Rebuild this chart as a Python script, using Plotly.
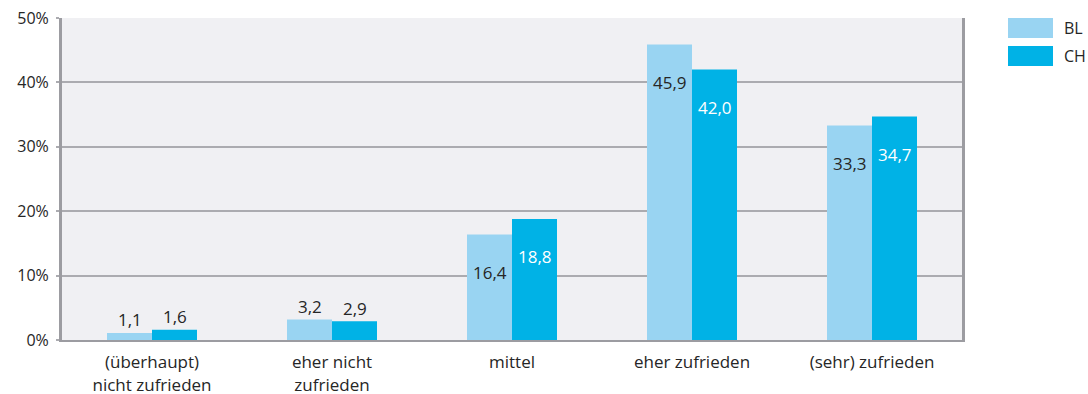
import plotly.graph_objects as go

categories = ["(überhaupt)<br>nicht zufrieden", "eher nicht<br>zufrieden", "mittel",
              "eher zufrieden", "(sehr) zufrieden"]
bl_values = [1.1, 3.2, 16.4, 45.9, 33.3]
ch_values = [1.6, 2.9, 18.8, 42.0, 34.7]
y_ticks = [0, 10, 20, 30, 40, 50]
y_tick_labels = ["0%", "10%", "20%", "30%", "40%", "50%"]

BL_COLOR = "#99d4f2"
CH_COLOR = "#00b2e6"
TEXT_DARK = "#262626"
GRID = "#ababb0"
AXIS = "#9c9ca1"
FONT = "Open Sans"

fig = go.Figure()
fig.add_trace(go.Bar(x=categories, y=bl_values, name="BL", marker_color=BL_COLOR,
                     marker_line_width=0))
fig.add_trace(go.Bar(x=categories, y=ch_values, name="CH", marker_color=CH_COLOR,
                     marker_line_width=0))


def fmt(v):
    return f"{v:.1f}".replace(".", ",")


# value labels: above short bars, inside the top of tall bars
annotations = []
for series, shift, inside_color in ((bl_values, -22.5, TEXT_DARK), (ch_values, 22.5, "white")):
    for cat, v in zip(categories, series):
        inside = v > 10
        annotations.append(dict(
            x=cat, y=v, xref="x", yref="y", text=fmt(v), showarrow=False,
            xshift=shift, yshift=-38 if inside else 13,
            font=dict(family=FONT, size=17, color=inside_color if inside else TEXT_DARK),
        ))

# legend swatches drawn beside the plot area
shapes = []
legend_items = [("BL", BL_COLOR, 18, 38), ("CH", CH_COLOR, 46, 66)]
plot_left, plot_right, plot_top, plot_bottom = 62, 962, 18, 340
pw, ph = plot_right - plot_left, plot_bottom - plot_top
for label, color, y0, y1 in legend_items:
    shapes.append(dict(type="rect", xref="paper", yref="paper",
                       x0=(1008 - plot_left) / pw, x1=(1053 - plot_left) / pw,
                       y0=(plot_bottom - y1) / ph, y1=(plot_bottom - y0) / ph,
                       fillcolor=color, line_width=0))
    annotations.append(dict(xref="paper", yref="paper", x=(1062 - plot_left) / pw,
                            y=(plot_bottom - (y0 + y1) / 2) / ph, text=label,
                            showarrow=False, xanchor="left", yanchor="middle",
                            font=dict(family=FONT, size=16, color=TEXT_DARK)))

fig.update_layout(
    width=1088, height=394,
    margin=dict(l=plot_left, r=1088 - plot_right, t=plot_top, b=394 - plot_bottom),
    paper_bgcolor="white", plot_bgcolor="#f0f0f3",
    barmode="group", bargap=0.5, bargroupgap=0,
    showlegend=False,
    font=dict(family=FONT, size=16, color=TEXT_DARK),
    annotations=annotations, shapes=shapes,
)
fig.update_xaxes(showgrid=False, showline=True, linecolor=AXIS, linewidth=2,
                 ticks="", automargin=False, ticklabelstandoff=6,
                 tickfont=dict(size=17, color=TEXT_DARK))
fig.update_yaxes(range=[0, 50], tickvals=y_ticks, ticktext=y_tick_labels,
                 showgrid=True, gridcolor=GRID, gridwidth=1.5, zeroline=False,
                 showline=True, linecolor=AXIS, linewidth=3, mirror=True,
                 ticks="outside", ticklen=3, tickcolor=GRID, tickwidth=1.5,
                 automargin=False, ticklabelstandoff=4,
                 tickfont=dict(size=16, color=TEXT_DARK))

fig.write_html("out.html")
